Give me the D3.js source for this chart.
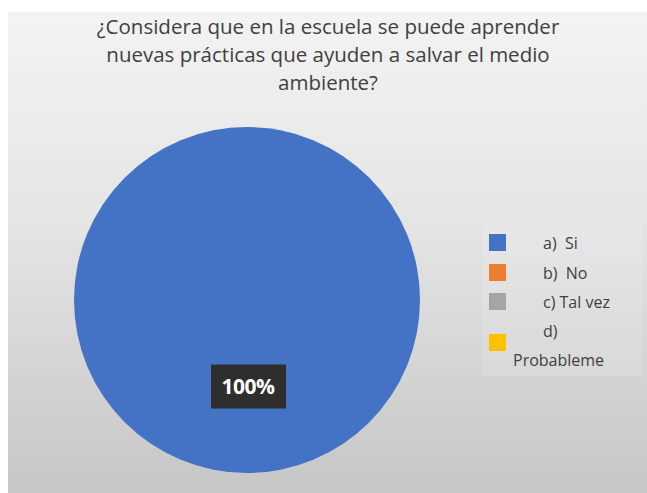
<!DOCTYPE html>
<html>
<head>
<meta charset="utf-8">
<script src="https://cdn.jsdelivr.net/npm/d3@7"></script>
<style>
html,body{margin:0;padding:0;background:#fff;}
svg{display:block;}
</style>
</head>
<body>
<svg id="chart" width="647" height="493"></svg>
<script>
const titleLines = ["¿Considera que en la escuela se puede aprender", "nuevas prácticas que ayuden a salvar el medio", "ambiente?"];
const categories = ["a)  Si", "b)  No", "c) Tal vez", "d) Probableme"];
const legendLines = [["a)  Si"], ["b)  No"], ["c) Tal vez"], ["d)", "Probableme"]];
const values = [100, 0, 0, 0];
const colors = ["#4472C4", "#ED7D31", "#A5A5A5", "#FFC000"];

const svg = d3.select("#chart");
const defs = svg.append("defs");
const grad = defs.append("linearGradient").attr("id", "bg").attr("x1", 0).attr("y1", 0).attr("x2", 0).attr("y2", 1);
grad.append("stop").attr("offset", "0%").attr("stop-color", "#f3f3f3");
grad.append("stop").attr("offset", "45%").attr("stop-color", "#e4e4e4");
grad.append("stop").attr("offset", "100%").attr("stop-color", "#c6c6c6");

svg.append("rect").attr("x", 8).attr("y", 12).attr("width", 639).attr("height", 481).attr("fill", "url(#bg)");

// title
svg.append("g").selectAll("text").data(titleLines).join("text")
  .attr("x", 328).attr("y", (d, i) => 34 + i * 28)
  .attr("text-anchor", "middle")
  .attr("font-family", "'Open Sans', sans-serif")
  .attr("font-size", 20.5)
  .attr("fill", "#404040")
  .text(d => d);

// pie
const cx = 247, cy = 300, r = 173;
const color = d3.scaleOrdinal().domain(categories).range(colors);
const pie = d3.pie().sort(null).value(d => d.v);
const data = categories.map((c, i) => ({c, v: values[i]}));
const arcs = pie(data);
const arc = d3.arc().innerRadius(0).outerRadius(r);
const g = svg.append("g").attr("transform", `translate(${cx},${cy})`);
g.selectAll("path").data(arcs.filter(d => d.data.v > 0)).join("path")
  .attr("d", arc).attr("fill", d => color(d.data.c));

// data label
const total = d3.sum(values);
const fmt = d3.format(".0%");
const lab = g.selectAll("g.lab").data(arcs.filter(d => d.data.v > 0)).join("g").attr("class", "lab")
  .attr("transform", d => {
    const a = (d.endAngle - d.startAngle) >= 2 * Math.PI - 1e-6 ? Math.PI : (d.startAngle + d.endAngle) / 2;
    const rr = r * 0.5;
    return `translate(${Math.sin(a) * rr + 1},${-Math.cos(a) * rr})`;
  });
lab.append("rect").attr("x", -37).attr("y", -22).attr("width", 75).attr("height", 44).attr("fill", "#2e2e2e");
lab.append("text").attr("text-anchor", "middle").attr("dy", "0.36em")
  .attr("font-family", "'Open Sans', sans-serif").attr("font-weight", "bold").attr("font-size", 21)
  .attr("letter-spacing", "-0.5")
  .attr("fill", "#fff").text(d => fmt(d.data.v / total));

// legend
const legY = [242, 272, 301, 342];
const leg = svg.append("g");
leg.append("rect").attr("x", 482).attr("y", 226).attr("width", 160).attr("height", 150).attr("fill", "#ffffff").attr("opacity", 0.12);
categories.forEach((c, i) => {
  leg.append("rect").attr("x", 489).attr("y", legY[i] - 8).attr("width", 17).attr("height", 17).attr("fill", color(c));
});
legendLines.forEach((lines, i) => {
  lines.forEach((t, j) => {
    leg.append("text")
      .attr("x", j === 0 ? 543 : 513)
      .attr("y", (i === 3 ? 337 : legY[i] + 7) + j * 29)
      .attr("font-family", "'Open Sans', sans-serif")
      .attr("font-size", 16)
      .attr("fill", "#404040")
      .style("white-space", "pre")
      .text(t);
  });
});
</script>
</body>
</html>
